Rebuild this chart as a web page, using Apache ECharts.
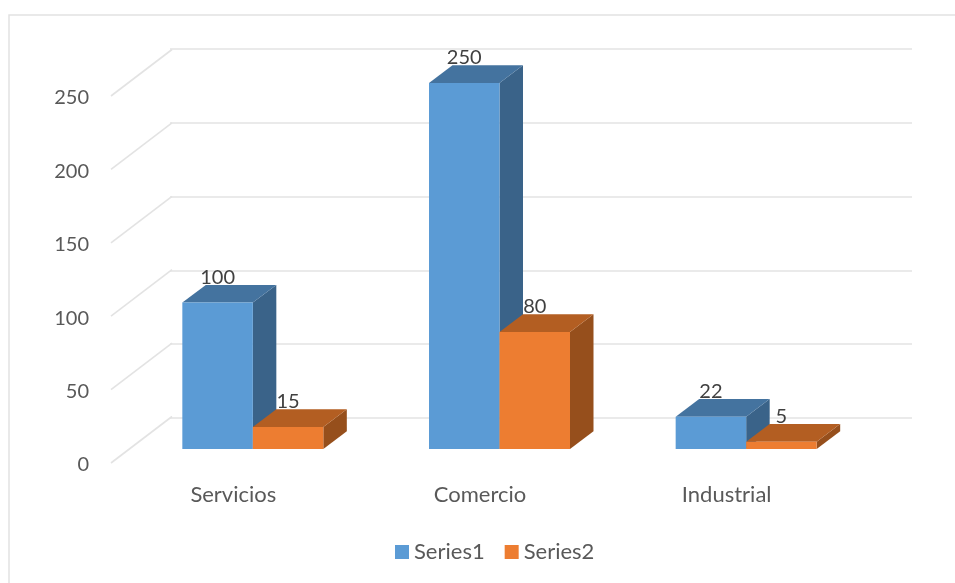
<!DOCTYPE html>
<html>
<head>
<meta charset="utf-8">
<style>html,body{margin:0;padding:0;background:#fff}#c{width:955px;height:583px}</style>
<script src="https://cdn.jsdelivr.net/npm/echarts@6/dist/echarts.min.js"></script>
</head>
<body>
<div id="c"></div>
<script>
var categories = ['Servicios', 'Comercio', 'Industrial'];
var series1 = [100, 250, 22];
var series2 = [15, 80, 5];
var yTicks = [0, 50, 100, 150, 200, 250];

var FONT = 'Lato, "Open Sans", sans-serif';
var BAR_W = 70.5, DX = 23.5, DY = 17.7;
var PALETTE = [
  {front: '#5b9bd5', top: '#44739f', side: '#3a6389'},
  {front: '#ed7d31', top: '#b35e22', side: '#964f1c'}
];

function barRender(which) {
  return function (params, api) {
    var cat = api.value(0), val = api.value(1);
    var p0 = api.coord([cat, 0]), p1 = api.coord([cat, val]);
    var x0 = which === 0 ? p0[0] - BAR_W : p0[0], x1 = x0 + BAR_W;
    var yb = p0[1], yt = p1[1];
    var c = PALETTE[which];
    return {
      type: 'group',
      children: [
        {type: 'polygon', shape: {points: [[x1, yb], [x1 + DX, yb - DY], [x1 + DX, yt - DY], [x1, yt]]}, style: {fill: c.side}},
        {type: 'polygon', shape: {points: [[x0, yt], [x0 + DX, yt - DY], [x1 + DX, yt - DY], [x1, yt]]}, style: {fill: c.top}},
        {type: 'rect', shape: {x: x0, y: yt, width: BAR_W, height: yb - yt}, style: {fill: c.front}},
        {type: 'text', style: {text: String(val), x: (x0 + x1) / 2, y: yt - 25, align: 'center', verticalAlign: 'middle', fill: '#404040', font: '20px ' + FONT}}
      ]
    };
  };
}

function diagRender(params, api) {
  var p = api.coord([0, api.value(0)]);
  var x = p[0] - api.size([1, 0])[0] / 2;
  var y = p[1] - 2;
  return {
    type: 'line',
    shape: {x1: x + 1, y1: y, x2: x + 62, y2: y - 46.5},
    style: {stroke: '#e3e3e3', lineWidth: 1.6}
  };
}

var chart = echarts.init(document.getElementById('c'), null, {renderer: 'canvas'});
chart.setOption({
  animation: false,
  backgroundColor: '#fff',
  graphic: [{
    type: 'rect', z: -10, silent: true,
    shape: {x: 9, y: 15, width: 1200, height: 1200},
    style: {fill: 'none', stroke: '#e2e2e2', lineWidth: 1.5}
  }],
  legend: {
    left: 395, top: 541, padding: 0,
    icon: 'rect', itemWidth: 14, itemHeight: 14, itemGap: 20,
    data: ['Series1', 'Series2'],
    textStyle: {fontFamily: FONT, fontSize: 22, color: '#595959'}
  },
  grid: [
    {left: 170, width: 742, top: 49, height: 369},
    {left: 110, width: 740, top: 98, height: 367},
    {left: 129.5, width: 740, top: 83, height: 366}
  ],
  xAxis: [
    {gridIndex: 0, type: 'category', data: categories, show: false},
    {gridIndex: 1, type: 'category', data: categories,
      axisLine: {show: false}, axisTick: {show: false},
      axisLabel: {margin: 19, fontFamily: FONT, fontSize: 22, color: '#595959'}},
    {gridIndex: 2, type: 'category', data: categories, show: false}
  ],
  yAxis: [
    {gridIndex: 0, type: 'value', min: 0, max: 250, interval: 50,
      axisLine: {show: false}, axisTick: {show: false}, axisLabel: {show: false},
      splitLine: {show: true, lineStyle: {color: '#e3e3e3', width: 1.6}}},
    {gridIndex: 1, type: 'value', min: 0, max: 250, interval: 50,
      axisLine: {show: false}, axisTick: {show: false}, splitLine: {show: false},
      axisLabel: {margin: 21, fontFamily: FONT, fontSize: 20, color: '#595959'}},
    {gridIndex: 2, type: 'value', min: 0, max: 250, interval: 50, show: false, splitLine: {show: false}}
  ],
  series: [
    {type: 'custom', name: 'wall', xAxisIndex: 1, yAxisIndex: 1, silent: true, z: 1, clip: false,
      data: yTicks.map(function (v) { return [v]; }), encode: {y: 0}, renderItem: diagRender},
    {type: 'custom', name: 'Series1', xAxisIndex: 2, yAxisIndex: 2, z: 3, clip: false,
      itemStyle: {color: PALETTE[0].front},
      data: series1.map(function (v, i) { return [i, v]; }), encode: {x: 0, y: 1}, renderItem: barRender(0)},
    {type: 'custom', name: 'Series2', xAxisIndex: 2, yAxisIndex: 2, z: 4, clip: false,
      itemStyle: {color: PALETTE[1].front},
      data: series2.map(function (v, i) { return [i, v]; }), encode: {x: 0, y: 1}, renderItem: barRender(1)}
  ]
});
</script>
</body>
</html>
